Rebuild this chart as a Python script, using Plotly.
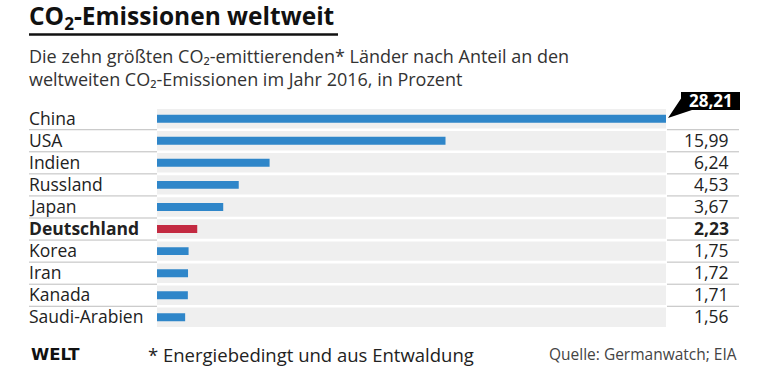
import plotly.graph_objects as go

countries = ["China", "USA", "Indien", "Russland", "Japan", "Deutschland",
             "Korea", "Iran", "Kanada", "Saudi-Arabien"]
values = [28.21, 15.99, 6.24, 4.53, 3.67, 2.23, 1.75, 1.72, 1.71, 1.56]
value_labels = ["28,21", "15,99", "6,24", "4,53", "3,67", "2,23", "1,75", "1,72", "1,71", "1,56"]
highlight = "Deutschland"

W, H = 768, 367
def px(x):
    return x / W
def py(y):
    return 1 - y / H

BLUE = "#2f86c9"
RED = "#c32a41"
BAND = "#efefef"
FONT = "Open Sans"
TXT = "#222222"

vmax = max(values)
colors = [RED if c == highlight else BLUE for c in countries]

fig = go.Figure()
fig.add_trace(go.Bar(y=countries, x=[vmax] * len(countries), orientation="h",
                     marker=dict(color=BAND, line=dict(width=0)), width=0.88,
                     hoverinfo="skip", showlegend=False))
fig.add_trace(go.Bar(y=countries, x=values, orientation="h",
                     marker=dict(color=colors, line=dict(width=0)), width=0.36,
                     showlegend=False))

top, bottom = 105.7, 332.3
fig.update_layout(
    width=W, height=H, margin=dict(l=0, r=0, t=0, b=0),
    paper_bgcolor="white", plot_bgcolor="white", barmode="overlay",
    xaxis=dict(domain=[px(157), px(666)], range=[0, vmax], visible=False, fixedrange=True),
    yaxis=dict(domain=[py(bottom), py(top)], autorange="reversed", visible=False,
               categoryorder="array", categoryarray=countries, fixedrange=True),
    font=dict(family=FONT, color=TXT),
)

ann = []
shapes = []
# Title
ann.append(dict(text="<b>CO<sub>2</sub>-Emissionen weltweit</b>", x=px(27), y=py(17),
                xref="paper", yref="paper", xanchor="left", yanchor="middle",
                showarrow=False, font=dict(size=24.5, color="#111111", family=FONT)))
shapes.append(dict(type="line", xref="paper", yref="paper", x0=px(29), x1=px(338),
                   y0=py(34.5), y1=py(34.5), line=dict(color="#111111", width=2.5)))
subtitle = ("Die zehn größten CO₂-emittierenden* Länder nach Anteil an den<br>"
            "weltweiten CO₂-Emissionen im Jahr 2016, in Prozent")
ann.append(dict(text=subtitle, x=px(27), y=py(68), xref="paper", yref="paper",
                xanchor="left", yanchor="middle", align="left", showarrow=False,
                font=dict(size=18, color="#333333", family=FONT)))

for i, (c, lab) in enumerate(zip(countries, value_labels)):
    bold = c == highlight
    ann.append(dict(text=f"<b>{c}</b>" if bold else c, x=px(27), y=c, xref="paper", yref="y",
                    xanchor="left", yanchor="middle", yshift=1, showarrow=False,
                    font=dict(size=17.5, color=TXT, family=FONT)))
    if i == 0:
        continue
    ann.append(dict(text=f"<b>{lab}</b>" if bold else lab, x=px(731), y=c, xref="paper", yref="y",
                    xanchor="right", yanchor="middle", yshift=1, showarrow=False,
                    font=dict(size=17.5, color=TXT, family=FONT)))

# highlighted top value box
ann.append(dict(text=f"<b>{value_labels[0]}</b>", x=px(711), y=py(101), xref="paper", yref="paper",
                xanchor="center", yanchor="middle", showarrow=False,
                font=dict(size=17, color="white", family=FONT)))
shapes.append(dict(type="rect", xref="paper", yref="paper", x0=px(681), x1=px(740),
                   y0=py(110), y1=py(92), fillcolor="black", line=dict(width=0), layer="below"))
shapes.append(dict(type="path", xref="paper", yref="paper",
                   path=f"M {px(682)},{py(97)} L {px(668)},{py(118)} L {px(692)},{py(110)} L {px(682)},{py(110)} Z",
                   fillcolor="black", line=dict(width=0)))

# separator lines
for i in range(len(countries) - 1):
    yb = i + 0.5
    shapes.append(dict(type="line", xref="paper", yref="y", x0=px(29), x1=px(157),
                       y0=yb, y1=yb, line=dict(color="#bdbdbd", width=1)))
    shapes.append(dict(type="line", xref="paper", yref="y", x0=px(667), x1=px(739),
                       y0=yb, y1=yb, line=dict(color="#bdbdbd", width=1)))

# footer
ann.append(dict(text="<b>WELT</b>", x=px(29), y=py(354), xref="paper", yref="paper",
                xanchor="left", yanchor="middle", showarrow=False,
                font=dict(size=16.5, color="#111111", family="DejaVu Sans")))
ann.append(dict(text="* Energiebedingt und aus Entwaldung", x=px(146), y=py(354), xref="paper",
                yref="paper", xanchor="left", yanchor="middle", showarrow=False,
                font=dict(size=18.5, color=TXT, family=FONT)))
ann.append(dict(text="Quelle: Germanwatch; EIA", x=px(739), y=py(354), xref="paper",
                yref="paper", xanchor="right", yanchor="middle", showarrow=False,
                font=dict(size=15.5, color="#444444", family=FONT)))

fig.update_layout(annotations=ann, shapes=shapes)
fig.write_html("out.html", config={"displayModeBar": False},
               post_script="document.body.style.margin='0';document.body.style.overflow='hidden';")
